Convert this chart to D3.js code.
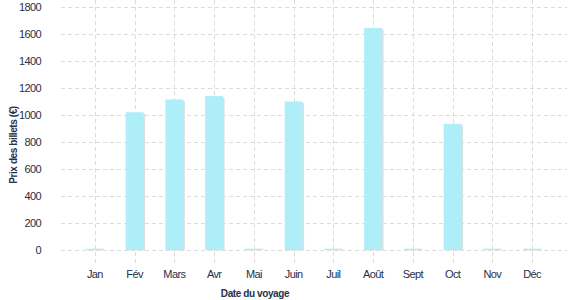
<!DOCTYPE html>
<html>
<head>
<meta charset="utf-8">
<script src="https://cdn.jsdelivr.net/npm/d3@7"></script>
<style>
  body { margin: 0; background: #fff; }
  svg text { font-family: "Liberation Sans", Arial, sans-serif; fill: #27304a; }
</style>
</head>
<body>
<svg id="chart" width="577" height="300"></svg>
<script>
var months = ["Jan", "Fév", "Mars", "Avr", "Mai", "Juin", "Juil", "Août", "Sept", "Oct", "Nov", "Déc"],
    prices = [10, 1020, 1115, 1140, 10, 1100, 10, 1645, 10, 935, 10, 10],
    yTicks = [0, 200, 400, 600, 800, 1000, 1200, 1400, 1600, 1800];

var svg = d3.select("#chart"),
    gridLeft = 61, gridRight = 567,
    plotTop = 7, plotBottom = 250;

// scales
var x = d3.scaleBand().domain(months).range([75, 552]).paddingInner(0.55).paddingOuter(0.275);
var y = d3.scaleLinear().domain([0, 1800]).range([plotBottom, plotTop]);

// horizontal grid
svg.append("g").selectAll("line")
    .data(yTicks)
    .enter().append("line")
    .attr("x1", gridLeft).attr("x2", gridRight)
    .attr("y1", function (d) { return Math.round(y(d)) + 0.5; })
    .attr("y2", function (d) { return Math.round(y(d)) + 0.5; })
    .attr("stroke", "#dcdcdc")
    .attr("stroke-dasharray", "4,3");

// vertical grid
svg.append("g").selectAll("line")
    .data(months)
    .enter().append("line")
    .attr("x1", function (d) { return Math.round(x(d) + x.bandwidth() / 2) + 0.5; })
    .attr("x2", function (d) { return Math.round(x(d) + x.bandwidth() / 2) + 0.5; })
    .attr("y1", 0).attr("y2", 263)
    .attr("stroke", "#dcdcdc")
    .attr("stroke-dasharray", "4,3");

// bar shadow
svg.append("g").selectAll("rect")
    .data(prices)
    .enter().append("rect")
    .attr("x", function (d, i) { return x(months[i]) + 1.5; })
    .attr("y", function (d) { return y(d) + 1.5; })
    .attr("width", x.bandwidth())
    .attr("height", function (d) { return Math.max(0, plotBottom - y(d) - 1); })
    .attr("fill", "#dedede");

// bars
svg.append("g").selectAll("rect")
    .data(prices)
    .enter().append("rect")
    .attr("x", function (d, i) { return x(months[i]); })
    .attr("y", function (d) { return y(d); })
    .attr("width", x.bandwidth())
    .attr("height", function (d) { return plotBottom - y(d); })
    .attr("fill", "#aeeef8");

// y axis labels
var yAxis = d3.axisLeft(y).tickValues(yTicks).tickFormat(d3.format("d")).tickSize(0).tickPadding(0);
var gy = svg.append("g")
    .attr("transform", "translate(41,0)")
    .call(yAxis);
gy.select(".domain").remove();
gy.selectAll("text")
    .attr("font-size", 11)
    .attr("letter-spacing", -0.6)
    .attr("fill", "#27304a");

// x axis labels
var xAxis = d3.axisBottom(x).tickSize(0).tickPadding(0);
var gx = svg.append("g")
    .attr("transform", "translate(0,270)")
    .call(xAxis);
gx.select(".domain").remove();
gx.selectAll("text")
    .attr("font-size", 11)
    .attr("letter-spacing", -0.6)
    .attr("fill", "#27304a");

// axis titles
svg.append("text")
    .attr("x", 255).attr("y", 297)
    .attr("text-anchor", "middle")
    .attr("font-size", 10)
    .attr("font-weight", "bold")
    .attr("letter-spacing", -0.4)
    .text("Date du voyage");

svg.append("text")
    .attr("transform", "translate(17,145) rotate(-90)")
    .attr("text-anchor", "middle")
    .attr("font-size", 10)
    .attr("font-weight", "bold")
    .attr("letter-spacing", -0.4)
    .text("Prix des billets (€)");
</script>
</body>
</html>
